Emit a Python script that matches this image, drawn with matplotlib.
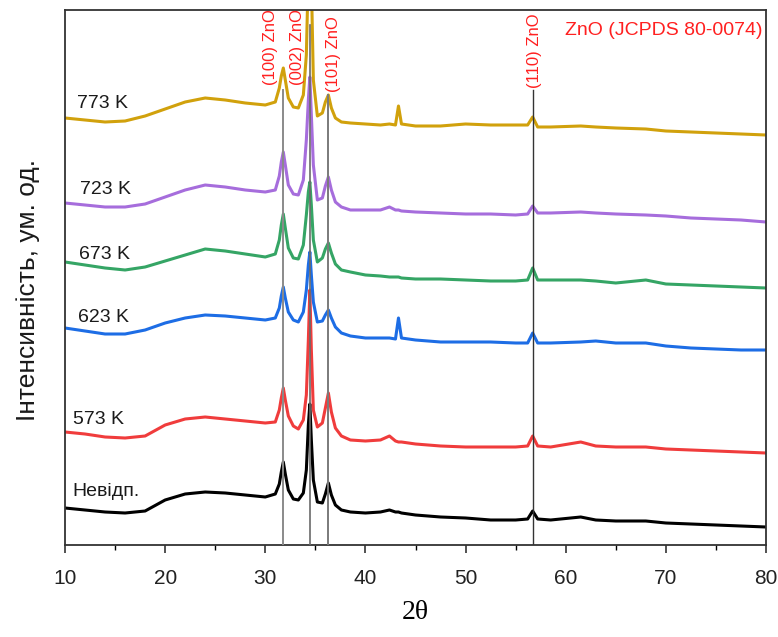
import matplotlib
matplotlib.use("Agg")
import matplotlib.pyplot as plt
from matplotlib.ticker import MultipleLocator
import numpy as np

# 2-theta sampling points (degrees)
two_theta = [10, 12, 14, 16, 18, 20, 22, 24, 26, 28, 30,
             31.0, 31.4, 31.6, 31.8, 32.0, 32.3, 32.8, 33.3, 33.8,
             34.1, 34.3, 34.45, 34.6, 34.8, 35.2, 35.7, 36.0, 36.3, 36.6,
             37.0, 37.6, 38.5, 40, 41.5, 42.4, 43.0, 43.3, 43.6, 45,
             47.5, 50, 52.5, 55, 56.2, 56.7, 57.2, 58.5, 61.5, 63,
             65, 68, 70, 72.5, 75, 77.5, 80]

# Intensities (arb. units) for each sample
i_raw = [37, 35, 33, 32, 34, 45, 51, 53, 52, 50, 48,
         51, 61, 73, 83, 71, 55, 46, 45, 52,
         75, 120, 141, 105, 65, 43, 42, 51, 62, 50,
         40, 35, 33, 32, 33, 35, 33, 33, 32, 30,
         28, 27, 25, 25, 26, 34, 26, 25, 28, 25,
         24, 24, 22, 21, 20, 19, 18]
i_573 = [38, 36, 33, 32, 34, 45, 51, 53, 51, 49, 47,
         48, 60, 72, 82, 70, 54, 44, 41, 50,
         75, 130, 180, 120, 60, 43, 47, 62, 77, 58,
         42, 34, 30, 29, 30, 34, 29, 28, 28, 26,
         24, 23, 23, 23, 24, 34, 24, 23, 28, 24,
         23, 23, 21, 20, 19, 18, 17]
i_623 = [32, 29, 26, 26, 30, 37, 42, 45, 44, 42, 40,
         42, 52, 64, 73, 62, 48, 40, 38, 48,
         70, 95, 108, 85, 58, 38, 39, 45, 50, 42,
         33, 27, 24, 22, 22, 22, 21, 42, 22, 20,
         18, 18, 18, 17, 17, 27, 17, 17, 18, 19,
         17, 17, 14, 12, 11, 10, 10]
i_673 = [33, 30, 27, 25, 28, 34, 40, 46, 44, 41, 38,
         41, 55, 70, 81, 67, 47, 37, 36, 50,
         80, 103, 113, 90, 55, 33, 37, 46, 52, 42,
         31, 25, 23, 20, 19, 18, 18, 18, 17, 16,
         16, 15, 14, 14, 15, 27, 15, 15, 15, 14,
         12, 15, 11, 10, 9, 8, 7]
i_723 = [32, 30, 28, 28, 31, 38, 45, 50, 48, 45, 43,
         45, 59, 73, 83, 70, 50, 41, 40, 55,
         95, 135, 158, 120, 70, 35, 37, 49, 58, 45,
         33, 28, 25, 25, 25, 28, 25, 25, 24, 23,
         22, 21, 21, 20, 21, 29, 22, 22, 23, 22,
         21, 20, 19, 17, 16, 15, 13]
i_773 = [32, 30, 28, 29, 34, 41, 48, 52, 50, 47, 45,
         48, 62, 74, 82, 70, 52, 43, 42, 55,
         95, 180, 260, 170, 70, 34, 37, 48, 55, 42,
         32, 28, 27, 26, 25, 26, 25, 44, 26, 24,
         24, 26, 25, 25, 25, 33, 23, 23, 24, 23,
         22, 21, 19, 18, 17, 16, 15]

sample_labels = ["Невідп.", "573 K", "623 K", "673 K", "723 K", "773 K"]
offsets = [0, 75, 185, 250, 310, 395]
colors = ["#000000", "#f03c3c", "#1d6de5", "#35a565", "#a66ddc", "#d1a10c"]
label_pos = [(10.7, 54), (10.8, 126), (11.3, 228), (11.4, 291), (11.5, 356), (11.2, 442)]

# ZnO reference reflections
ref_pos = [31.8, 34.45, 36.3, 56.7]
ref_hkl = ["(100) ZnO", "(002) ZnO", "(101) ZnO", "(110) ZnO"]
ref_top = [455, 520, 450, 455]
ref_label_x = [30.5, 33.25, 36.85, 56.9]
ref_label_y = [460, 460, 453, 457]

fig = plt.figure(figsize=(7.78, 6.37), dpi=100)
ax = fig.add_axes([65 / 778, 1 - 545 / 637, (766 - 65) / 778, (545 - 10) / 637])

series = [i_raw, i_573, i_623, i_673, i_723, i_773]
for data, off, col in zip(series, offsets, colors):
    ax.plot(two_theta, np.array(data) + off, color=col, lw=2.2, solid_joinstyle="round")

for (lx, ly), txt in zip(label_pos, sample_labels):
    ax.text(lx, ly, txt, fontsize=14, family="Liberation Sans", color="#1a1a1a",
            ha="left", va="center")

for xpos, top, shade, lw in zip(ref_pos, ref_top,
                                 ["#8a8a8a", "#6a6a6a", "#7a7a7a", "#333333"],
                                 [1.4, 1.2, 1.4, 1.0]):
    ax.plot([xpos, xpos], [0, top], color=shade, lw=lw, zorder=5)

for lx, ly, txt in zip(ref_label_x, ref_label_y, ref_hkl):
    ax.text(lx, ly, txt, rotation=90, fontsize=12, family="Liberation Sans",
            color="#ff2020", ha="center", va="bottom")

ax.text(79.7, 515, "ZnO (JCPDS 80-0074)", fontsize=14, family="Liberation Sans",
        color="#ff2020", ha="right", va="center")

ax.set_xlim(10, 80)
ax.set_ylim(0, 535)
ax.xaxis.set_major_locator(MultipleLocator(10))
ax.xaxis.set_minor_locator(MultipleLocator(5))
ax.tick_params(axis="x", which="major", length=6, width=1.1, direction="out", pad=11,
               labelsize=15, colors="#222222")
ax.tick_params(axis="x", which="minor", length=3.5, width=1.0, direction="out")
ax.set_yticks([])
for lab in ax.get_xticklabels():
    lab.set_family(["Liberation Sans Narrow", "Liberation Sans"])
for sp in ax.spines.values():
    sp.set_linewidth(1.3)
    sp.set_color("#333333")

ax.set_xlabel("2θ", fontsize=20, family="Liberation Serif", labelpad=9)
fig.text(28 / 778, 1 - 290 / 637, "Інтенсивність, ум. од.", rotation=90,
         fontsize=19, family="Liberation Sans", ha="center", va="center", color="#1a1a1a")

fig.savefig("out.png", dpi=100)
